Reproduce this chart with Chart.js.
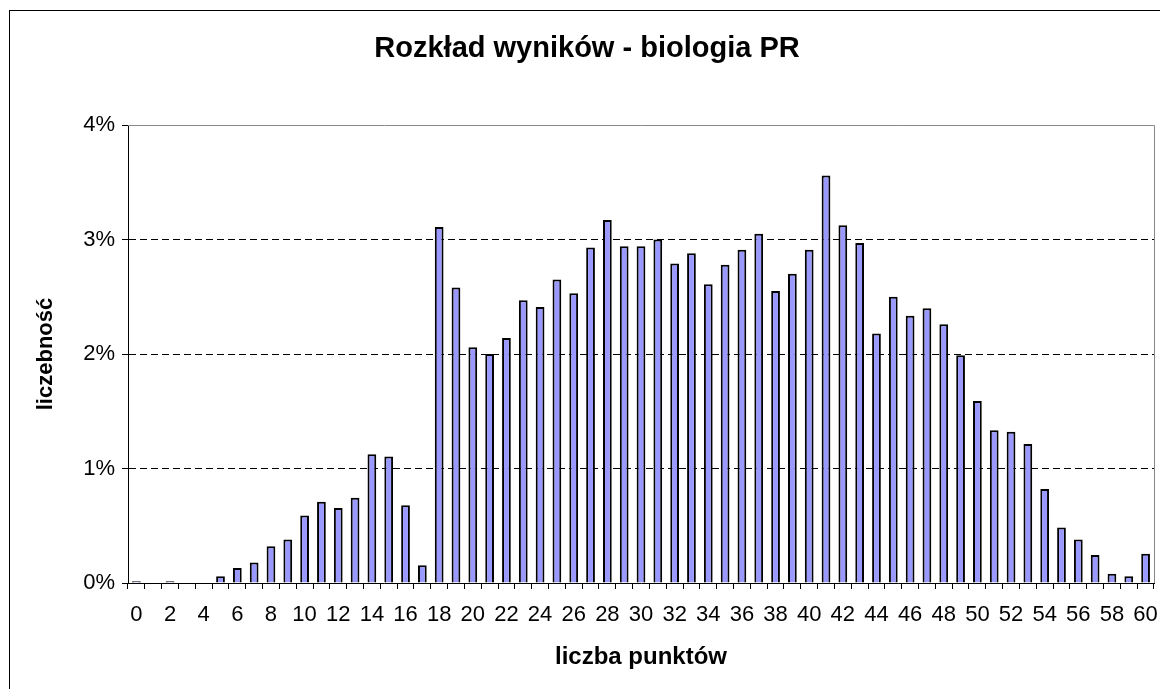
<!DOCTYPE html>
<html>
<head>
<meta charset="utf-8">
<title>Rozkład wyników - biologia PR</title>
<script src="https://cdn.jsdelivr.net/npm/chart.js@4"></script>
<style>
    body { margin: 0; background: #fff; overflow: hidden; }
    #wrap { position: relative; width: 1160px; height: 689px; }
    #frame { position: absolute; left: 9px; top: 10px; width: 1200px; height: 800px; border-left: 1px solid #000; border-top: 1px solid #000; }
</style>
</head>
<body>
<div id="wrap">
    <div id="frame"></div>
    <canvas id="wynikiChart"></canvas>
</div>
<script>
// points 0..60
const punkty = [];
for (let i = 0; i <= 60; i++) punkty.push(String(i));

// share of students per score (in %)
const liczebnosc = [
    0.015, 0, 0.015, 0, 0, 0.06, 0.13, 0.18, 0.32, 0.38,
    0.59, 0.71, 0.655, 0.745, 1.125, 1.105, 0.68, 0.155, 3.11, 2.58,
    2.06, 2.0, 2.14, 2.47, 2.41, 2.65, 2.53, 2.93, 3.17, 2.94,
    2.94, 3.0, 2.79, 2.88, 2.61, 2.78, 2.91, 3.05, 2.55, 2.70,
    2.91, 3.56, 3.125, 2.97, 2.18, 2.50, 2.335, 2.40, 2.26, 1.99,
    1.59, 1.335, 1.32, 1.215, 0.82, 0.485, 0.38, 0.245, 0.08, 0.06,
    0.255
];

// y axis ticks
const yTicks = [0, 1, 2, 3, 4];

const fontFamily = '"Liberation Sans", Arial, sans-serif';

// gray frame on top and right of the plot area
const plotFrame = {
    id: 'plotFrame',
    beforeDatasetsDraw(chart) {
        const { ctx, chartArea } = chart;
        ctx.save();
        ctx.strokeStyle = '#888';
        ctx.lineWidth = 1;
        ctx.beginPath();
        ctx.moveTo(chartArea.left, chartArea.top + 0.5);
        ctx.lineTo(chartArea.right + 0.5, chartArea.top + 0.5);
        ctx.lineTo(chartArea.right + 0.5, chartArea.bottom);
        ctx.stroke();
        ctx.restore();
    }
};

const ctx = document.getElementById('wynikiChart').getContext('2d');
new Chart(ctx, {
    type: 'bar',
    data: {
        labels: punkty,
        datasets: [{
            label: 'liczebność',
            data: liczebnosc,
            backgroundColor: '#9999ff',
            borderColor: '#000',
            borderWidth: 2,
            barPercentage: 0.52,
            categoryPercentage: 1.0
        }]
    },
    options: {
        responsive: true,
        maintainAspectRatio: false,
        animation: false,
        layout: { padding: { left: 20, right: 6, top: 0, bottom: 0 } },
        plugins: {
            legend: { display: false },
            tooltip: { enabled: false },
            title: {
                display: true,
                text: 'Rozkład wyników - biologia PR',
                color: '#000',
                font: { family: fontFamily, size: 29, weight: 'bold' },
                padding: { top: 31.6, bottom: 58.6 }
            }
        },
        scales: {
            x: {
                grid: {
                    offset: true,
                    drawOnChartArea: false,
                    tickLength: 6,
                    color: '#000'
                },
                border: { color: '#000', width: 1 },
                ticks: {
                    autoSkip: false,
                    maxRotation: 0,
                    padding: 13,
                    color: '#000',
                    font: { family: fontFamily, size: 22 },
                    callback: function (val, i) { return i % 2 === 0 ? punkty[i] : ''; }
                },
                title: {
                    display: true,
                    text: 'liczba punktów',
                    color: '#000',
                    font: { family: fontFamily, size: 24, weight: 'bold' },
                    padding: { top: 0, bottom: 17.6 }
                },
                afterFit: function (scale) {
                    scale.height = 106;
                    scale.paddingLeft = 0;
                    scale.paddingRight = 0;
                }
            },
            y: {
                min: 0,
                max: 4,
                afterBuildTicks: function (scale) {
                    scale.ticks = yTicks.map(v => ({ value: v }));
                },
                grid: {
                    color: c => (c.tick && c.tick.value > 0 && c.tick.value < 4) ? '#000' : 'rgba(0,0,0,0)',
                    tickColor: '#000',
                    tickLength: 6,
                    tickBorderDash: []
                },
                border: { color: '#000', width: 1, dash: [7, 4] },
                ticks: {
                    padding: 7,
                    color: '#000',
                    font: { family: fontFamily, size: 22 },
                    callback: v => v + '%'
                },
                title: {
                    display: true,
                    text: 'liczebność',
                    color: '#000',
                    font: { family: fontFamily, size: 22, weight: 'bold' },
                    padding: { top: 13, bottom: 0 }
                },
                afterFit: function (scale) {
                    scale.width = 108;
                }
            }
        }
    },
    plugins: [plotFrame]
});
</script>
</body>
</html>
